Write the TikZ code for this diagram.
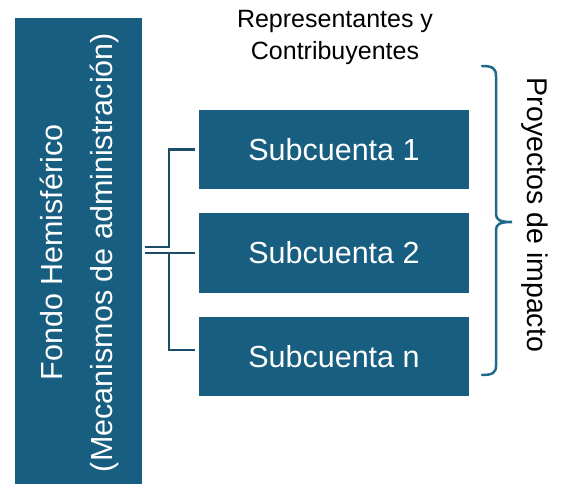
\documentclass[tikz,border=0pt]{standalone}
\usepackage{fontspec}
\setmainfont{Liberation Sans}
\definecolor{boxblue}{RGB}{24,94,128}
\definecolor{connblue}{RGB}{27,77,107}
\definecolor{braceblue}{RGB}{32,106,140}
\begin{document}
\begin{tikzpicture}[x=1pt,y=-1pt,
  box/.style={draw=none,fill=boxblue,inner sep=0pt,minimum width=270,minimum height=79.5,
    text=white,font=\fontsize{30.5}{36}\selectfont},
  vtext/.style={text=white,font=\fontsize{30.5}{36}\selectfont,inner sep=0pt,rotate=90,anchor=base},
  toptext/.style={text=black,font=\fontsize{25}{30}\selectfont,inner sep=0pt,anchor=base},
  conn/.style={draw=connblue,line width=2.6pt},
  bracestyle/.style={draw=braceblue,line width=2.5pt,line cap=round}]
\useasboundingbox (0,0) rectangle (566,484);
\node[fill=boxblue,inner sep=0pt,minimum width=127,minimum height=470] (fondo) at (78.5,253) {};
\node[vtext] (fondoA) at (63,252.5) {Fondo Hemisférico};
\node[vtext] (fondoB) at (112,252.5) {(Mecanismos de administración)};
\node[box] (sub1) at (334,149.5) {Subcuenta 1};
\node[box] (sub2) at (334,253) {Subcuenta 2};
\node[box] (sub3) at (334,356.5) {Subcuenta n};
\node[toptext] (rep1) at (335,28) {Representantes y};
\node[toptext] (rep2) at (335,60) {Contribuyentes};
\node[text=black,font=\fontsize{28.5}{34}\selectfont,inner sep=0pt,rotate=-90,anchor=base] (proy) at (527,215) {Proyectos de impacto};
% connectors
\coordinate (j1) at (169,247);
\coordinate (j2) at (169,253);
\coordinate (j3) at (169,350);
\draw[conn] ([xshift=3pt]fondo.east |- j1) -- (j1) -- (j1 |- sub1.west) -- ([xshift=-4pt]sub1.west);
\draw[conn] ([xshift=3pt]fondo.east |- j2) -- ([xshift=-4pt]sub2.west);
\draw[conn] (j2) -- (j3) -- ([xshift=-4pt]sub3.west |- j3);
% brace
\draw[bracestyle] (482,66) .. controls (492,66) and (496,68) .. (496,76) -- (496,214)
  .. controls (496,220) and (500,222) .. (512,222)
  .. controls (500,222) and (496,224) .. (496,230) -- (496,366)
  .. controls (496,373) and (492,375) .. (482,375);
\end{tikzpicture}
\end{document}
